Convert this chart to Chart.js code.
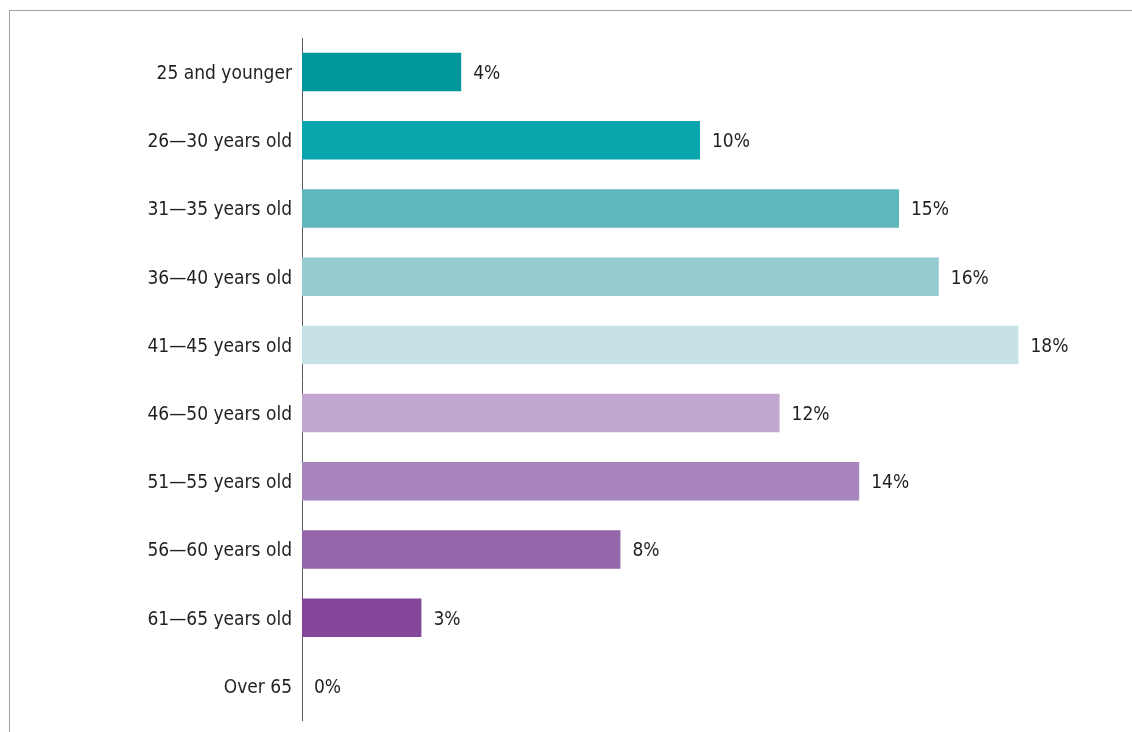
<!DOCTYPE html>
<html>
<head>
<meta charset="utf-8">
<script src="https://cdn.jsdelivr.net/npm/chart.js@4"></script>
<style>
  html, body { margin: 0; padding: 0; background: #fff; }
  #frame {
    position: absolute; left: 9px; top: 10px; right: 0; bottom: 0;
    border-top: 1px solid #a3a3a3; border-left: 1px solid #a3a3a3;
  }
  #wrap { position: absolute; left: 0; top: 0; width: 1132px; height: 732px; }
</style>
</head>
<body>
<div id="frame"></div>
<div id="wrap"><canvas id="age-chart" width="1132" height="732"></canvas></div>
<script>
// Age groups and share of respondents (%)
const ageGroups = [
  '25 and younger',
  '26—30 years old',
  '31—35 years old',
  '36—40 years old',
  '41—45 years old',
  '46—50 years old',
  '51—55 years old',
  '56—60 years old',
  '61—65 years old',
  'Over 65'
];
const shares = [4, 10, 15, 16, 18, 12, 14, 8, 3, 0];
const barColors = [
  '#00979c', '#0aa6ad', '#5db7bc', '#96cbd1', '#c6e2e6',
  '#c2a8d1', '#a985bd', '#9566aa', '#834699', '#834699'
];

const labelFont = { family: '"Liberation Sans Narrow", "DejaVu Sans Condensed", sans-serif', size: 19 };
const textColor = '#231f20';

// Write the percentage just past the end of each bar
const valueLabels = {
  id: 'valueLabels',
  afterDatasetsDraw(chart) {
    const ctx = chart.ctx;
    const meta = chart.getDatasetMeta(0);
    ctx.save();
    ctx.font = `${labelFont.size}px ${labelFont.family}`;
    ctx.fillStyle = textColor;
    ctx.textAlign = 'left';
    ctx.textBaseline = 'middle';
    meta.data.forEach((bar, i) => {
      ctx.fillText(shares[i] + '%', bar.x + 12, bar.y + 2);
    });
    ctx.restore();
  }
};

const ageChart = new Chart(document.getElementById('age-chart'), {
  type: 'bar',
  data: {
    labels: ageGroups,
    datasets: [{
      data: shares,
      backgroundColor: barColors,
      barPercentage: 0.565,
      categoryPercentage: 1
    }]
  },
  options: {
    indexAxis: 'y',
    responsive: false,
    animation: false,
    layout: { padding: { top: 38, bottom: 12, right: 34, left: 0 } },
    plugins: {
      legend: { display: false },
      tooltip: { enabled: false }
    },
    scales: {
      x: {
        display: false,
        min: 0,
        max: 20
      },
      y: {
        afterFit(scale) {
          scale.width = 302;
          scale.paddingTop = 0;
          scale.paddingBottom = 0;
        },
        grid: { display: false, drawTicks: false },
        border: { display: true, color: '#5a5a5a', width: 1 },
        ticks: {
          padding: 10,
          labelOffset: 2,
          color: textColor,
          font: labelFont
        }
      }
    }
  },
  plugins: [valueLabels]
});
</script>
</body>
</html>
